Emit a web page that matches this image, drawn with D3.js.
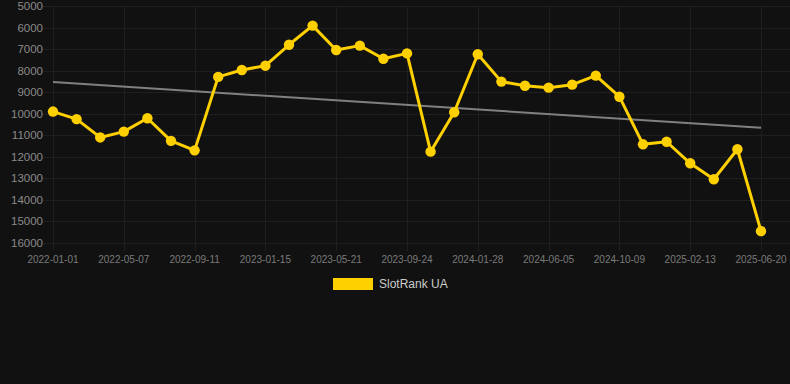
<!DOCTYPE html>
<html>
<head>
<meta charset="utf-8">
<script src="https://cdn.jsdelivr.net/npm/d3@7/dist/d3.min.js"></script>
<style>
  html, body { margin: 0; padding: 0; background: #111111; }
  svg { display: block; font-family: "Liberation Sans", Arial, sans-serif; }
</style>
</head>
<body>
<svg id="chart" width="790" height="384"></svg>
<script>
// chart data
var dates = ["2022-01-01", "2022-02-12", "2022-03-26", "2022-05-07", "2022-06-18", "2022-07-31",
             "2022-09-11", "2022-10-23", "2022-12-04", "2023-01-15", "2023-02-26", "2023-04-09",
             "2023-05-21", "2023-07-02", "2023-08-13", "2023-09-24", "2023-11-05", "2023-12-17",
             "2024-01-28", "2024-03-10", "2024-04-23", "2024-06-05", "2024-07-17", "2024-08-28",
             "2024-10-09", "2024-11-20", "2025-01-01", "2025-02-13", "2025-03-27", "2025-05-08",
             "2025-06-20"];
var ranks = [9900, 10250, 11100, 10830, 10210, 11260, 11700, 8290, 7970, 7770, 6800, 5910,
             7040, 6840, 7450, 7200, 11760, 9930, 7240, 8510, 8700, 8790, 8650, 8230,
             9210, 11420, 11300, 12300, 13040, 11650, 15450];
var trend = [8530, 10650];   // trend line at first and last date
var xTicks = ["2022-01-01", "2022-05-07", "2022-09-11", "2023-01-15", "2023-05-21", "2023-09-24",
              "2024-01-28", "2024-06-05", "2024-10-09", "2025-02-13", "2025-06-20"];
var yTicks = [5000, 6000, 7000, 8000, 9000, 10000, 11000, 12000, 13000, 14000, 15000, 16000];
var seriesName = "SlotRank UA";

var svg = d3.select('#chart');
var plotLeft = 53, plotRight = 761, plotTop = 6, plotBottom = 243;
var gridColor = '#1f1f1f';
var gold = '#FFD000';

var x = d3.scalePoint().domain(dates).range([plotLeft, plotRight]);
var y = d3.scaleLinear().domain([5000, 16000]).range([plotTop, plotBottom]);

// horizontal grid + y labels
svg.append('g').selectAll('line').data(yTicks).enter().append('line')
  .attr('x1', plotLeft - 10).attr('x2', 790)
  .attr('y1', function(d) { return Math.round(y(d)) + 0.5; })
  .attr('y2', function(d) { return Math.round(y(d)) + 0.5; })
  .attr('stroke', gridColor).attr('stroke-width', 1);

svg.append('g').selectAll('text').data(yTicks).enter().append('text')
  .attr('x', plotLeft - 10)
  .attr('y', function(d) { return y(d); })
  .attr('dy', '0.35em')
  .attr('text-anchor', 'end')
  .attr('font-size', 11.5)
  .attr('fill', '#8a8a8a')
  .text(function(d) { return d; });

// vertical grid + x labels
svg.append('g').selectAll('line').data(xTicks).enter().append('line')
  .attr('x1', function(d) { return Math.round(x(d)) + 0.5; })
  .attr('x2', function(d) { return Math.round(x(d)) + 0.5; })
  .attr('y1', plotTop).attr('y2', plotBottom + 8)
  .attr('stroke', gridColor).attr('stroke-width', 1);

svg.append('g').selectAll('text').data(xTicks).enter().append('text')
  .attr('x', function(d) { return x(d); })
  .attr('y', plotBottom + 20)
  .attr('text-anchor', 'middle')
  .attr('font-size', 10)
  .attr('fill', '#7a7a7a')
  .text(function(d) { return d; });

// trend line
svg.append('line')
  .attr('x1', x(dates[0])).attr('y1', y(trend[0]))
  .attr('x2', x(dates[dates.length - 1])).attr('y2', y(trend[1]))
  .attr('stroke', '#808080').attr('stroke-width', 2);

// series
var pts = dates.map(function(d, i) { return [x(d), y(ranks[i])]; });
svg.append('path')
  .attr('d', d3.line()(pts))
  .attr('fill', 'none')
  .attr('stroke', gold)
  .attr('stroke-width', 3)
  .attr('stroke-linejoin', 'round');

svg.append('g').selectAll('circle').data(pts).enter().append('circle')
  .attr('cx', function(d) { return d[0]; })
  .attr('cy', function(d) { return d[1]; })
  .attr('r', 5.2)
  .attr('fill', gold);

// legend
svg.append('rect')
  .attr('x', 333).attr('y', 278)
  .attr('width', 40).attr('height', 12)
  .attr('fill', gold);
svg.append('text')
  .attr('x', 379).attr('y', 284)
  .attr('dy', '0.35em')
  .attr('font-size', 12)
  .attr('fill', '#cccccc')
  .text(seriesName);
</script>
</body>
</html>
